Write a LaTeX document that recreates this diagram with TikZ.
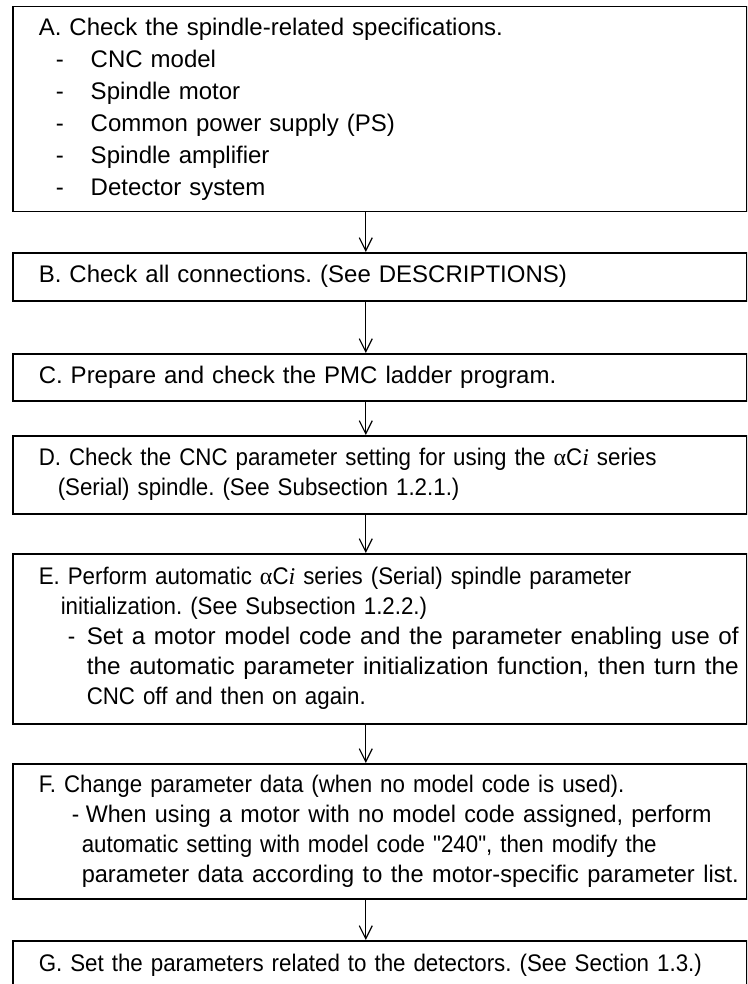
\documentclass[tikz,border=0pt]{standalone}
\usepackage{fontspec}
\usepackage{graphicx}
\setmainfont{Liberation Sans}
\newfontfamily\narrowfont{Liberation Sans}[FakeStretch=0.93]
\newfontfamily\grkfont{Liberation Serif}
\usetikzlibrary{arrows.meta}
\newcommand{\aci}{{\grkfont α}C{\grkfont\itshape i}}
\newcommand{\fitto}[2]{\resizebox{#1}{\height}{#2}}
\frenchspacing
\begin{document}
\begin{tikzpicture}[x=1pt, y=-1pt,
    stepbox/.style={draw, line width=1.5pt, anchor=north west, minimum width=734pt, text width=682pt, inner xsep=26pt, inner ysep=0pt, align=left, font=\fontsize{24}{32}\selectfont},
    narrowbox/.style={stepbox, font=\fontsize{24}{30}\selectfont\narrowfont},
    flow/.style={line width=1.2pt, -{Straight Barb[length=13pt,width=13pt]}}]

    \useasboundingbox (0,0) rectangle (747,984);
    \clip (0,0) rectangle (747,984);

    \node[stepbox, minimum height=205pt] (spec) at (12,6) {A. Check the spindle-related specifications.\\
        \hspace*{17pt}\makebox[35pt][l]{-}CNC model\\
        \hspace*{17pt}\makebox[35pt][l]{-}Spindle motor\\
        \hspace*{17pt}\makebox[35pt][l]{-}Common power supply (PS)\\
        \hspace*{17pt}\makebox[35pt][l]{-}Spindle amplifier\\
        \hspace*{17pt}\makebox[35pt][l]{-}Detector system};
    \node[stepbox, minimum height=48pt] (conn) at (12,252) {B. Check all connections. (See DESCRIPTIONS)};
    \node[stepbox, minimum height=47pt] (ladder) at (12,353) {C. Prepare and check the PMC ladder program.};
    \node[narrowbox, minimum height=78pt] (cncpar) at (12,435) {D. Check the CNC parameter setting for using the \aci{} series\\
        \hspace*{19pt}(Serial) spindle. (See Subsection 1.2.1.)};
    \node[narrowbox, minimum height=170pt] (init) at (12,553) {E. Perform automatic \aci{} series (Serial) spindle parameter\\
        \hspace*{22pt}initialization. (See Subsection 1.2.2.)\\
        \hspace*{29pt}\makebox[19pt][l]{-}\fitto{652pt}{Set a motor model code and the parameter enabling use of}\\
        \hspace*{48pt}\fitto{652pt}{the automatic parameter initialization function, then turn the}\\
        \hspace*{48pt}CNC off and then on again.};
    \node[narrowbox, minimum height=135pt] (change) at (12,763) {F. Change parameter data (when no model code is used).\\
        \hspace*{33pt}\makebox[14pt][l]{-}\fitto{626pt}{When using a motor with no model code assigned, perform}\\
        \hspace*{43pt}automatic setting with model code "240", then modify the\\
        \hspace*{43pt}\fitto{657pt}{parameter data according to the motor-specific parameter list.}};
    \node[narrowbox, minimum height=90pt, text depth=46pt] (detect) at (12,940) {G. Set the parameters related to the detectors. (See Section 1.3.)};

    \draw[flow] ([xshift=-14pt]spec.south) -- ([xshift=-14pt]conn.north);
    \draw[flow] ([xshift=-14pt]conn.south) -- ([xshift=-14pt]ladder.north);
    \draw[flow] ([xshift=-14pt]ladder.south) -- ([xshift=-14pt]cncpar.north);
    \draw[flow] ([xshift=-14pt]cncpar.south) -- ([xshift=-14pt]init.north);
    \draw[flow] ([xshift=-14pt]init.south) -- ([xshift=-14pt]change.north);
    \draw[flow] ([xshift=-14pt]change.south) -- ([xshift=-14pt]detect.north);
\end{tikzpicture}
\end{document}
